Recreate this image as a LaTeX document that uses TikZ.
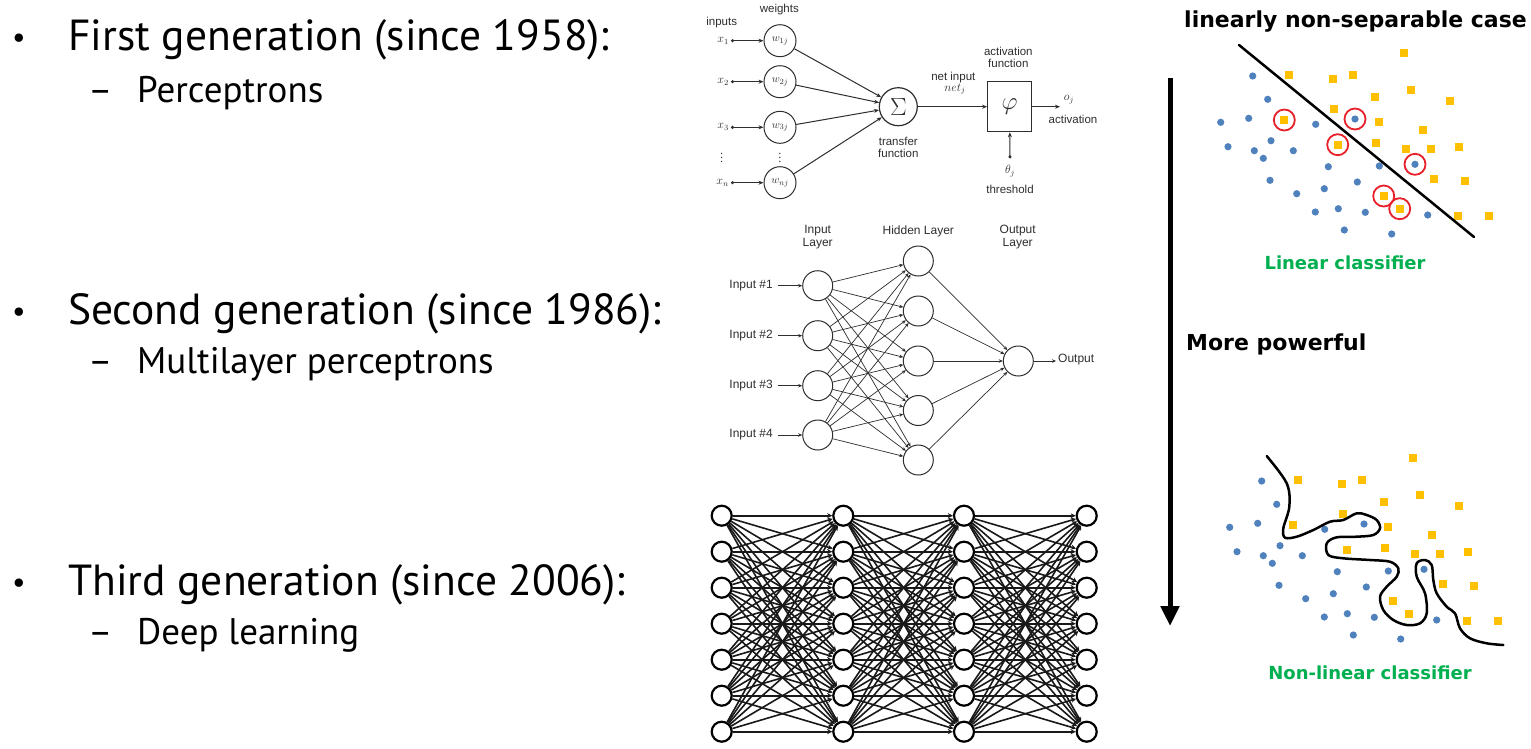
\documentclass[tikz,border=0pt]{standalone}
\usepackage{fontspec}
\setmainfont{PT Sans}
\newfontfamily\labelfont{DejaVu Sans}
\newfontfamily\figfont{Liberation Sans}
\usetikzlibrary{arrows.meta}
\definecolor{dotblue}{HTML}{4F81BD}
\definecolor{sqyellow}{HTML}{FFC000}
\definecolor{clsgreen}{HTML}{00B050}
\definecolor{figgray}{HTML}{2E2E2E}
\definecolor{ringred}{HTML}{E8202A}

% blue dots and yellow squares of the two-class data set
\newcommand\classpoints{%
  \foreach \px/\py in {1252.7/76, 1267.7/99.3, 1220.7/122.3, 1248.7/118.3, 1315.7/124.3,
      1355/119, 1228/146.7, 1254.3/150.7, 1271/140.7, 1263.3/158.3, 1293.3/150.7,
      1328.3/166.7, 1379.3/166, 1415/164.3, 1270/180.3, 1296.7/193.7, 1324.3/188.7,
      1357.3/182, 1315.3/212, 1338.3/208.7, 1365.3/212.3, 1427.7/215, 1344.3/230, 1391.7/234}
    {\fill[dotblue] (\px,\py) circle (3.6pt);}
  \foreach \px/\py in {1404/52.7, 1289.3/74.7, 1333.3/79, 1352.7/74.7, 1411.3/90,
      1374.7/96.7, 1450/100.7, 1333.7/109.3, 1284.3/120, 1378.7/122.3, 1423/129.7,
      1337.7/144.7, 1375.7/143.3, 1405.7/148.7, 1431.3/149.3, 1458.7/147, 1434.3/179.3,
      1465/180.7, 1383.7/196, 1399.7/208.7, 1458/215.7, 1488.7/215.7}
    {\fill[sqyellow] (\px,\py) +(-4,-4) rectangle +(4,4);}%
}

\tikzset{
  bigtext/.style={anchor=base west, inner sep=0pt, font=\fontsize{43.5}{48}\selectfont},
  bullettext/.style={anchor=base west, inner sep=0pt, font=\fontsize{30}{34}\selectfont},
  subtext/.style={anchor=base west, inner sep=0pt, font=\fontsize{37}{42}\selectfont},
  headtext/.style={inner sep=0pt, font=\labelfont\bfseries\fontsize{22}{26}\selectfont},
  greentext/.style={inner sep=0pt, text=clsgreen, font=\labelfont\bfseries\fontsize{18}{22}\selectfont},
  figtext/.style={inner sep=0pt, text=figgray, font=\figfont\fontsize{11.5}{12.5}\selectfont},
  mlptext/.style={inner sep=0pt, text=figgray, font=\figfont\fontsize{12}{13.5}\selectfont},
  wnode/.style={circle, draw=figgray, line width=1pt, minimum size=32pt, inner sep=0pt,
    text=figgray, font=\fontsize{11}{12}\selectfont},
  sumnode/.style={circle, draw=figgray, line width=1.2pt, minimum size=38pt, inner sep=0pt,
    text=figgray, font=\fontsize{24}{26}\selectfont},
  actbox/.style={draw=figgray, line width=1.2pt, minimum width=44pt, minimum height=50pt,
    inner sep=0pt, text=figgray, font=\fontsize{26}{28}\selectfont},
  flow/.style={draw=figgray, line width=1pt, -{Stealth[length=5pt,width=4pt]}},
  dotflow/.style={draw=figgray, line width=1pt, {Circle[length=3pt]}-{Stealth[length=5pt,width=4pt]}},
  mlpnode/.style={circle, draw=figgray, line width=1pt, minimum size=30pt, inner sep=0pt},
  mlpedge/.style={draw=figgray, line width=0.7pt, -{Stealth[length=4pt,width=3.5pt]}},
  dnode/.style={circle, draw=black, fill=white, line width=2.2pt, minimum size=20pt, inner sep=0pt},
  dedge/.style={draw=black!90, line width=1.6pt, -{Stealth[length=5pt,width=5pt]}},
  ring/.style={draw=ringred, line width=1.8pt},
  bound/.style={draw=black, line width=2.5pt, line cap=round},
}

\begin{document}
\begin{tikzpicture}[x=1pt, y=-1pt]
\useasboundingbox[fill=white] (0,0) rectangle (1531,748);

% ---------------- bullet list ----------------
\node[bullettext] (b1) at (12,47) {•};
\node[bigtext] (g1) at (68,50) {First generation (since 1958):};
\node[subtext] (s1d) at (88,102) {–};
\node[subtext] (s1) at (137,102) {Perceptrons};

\node[bullettext] (b2) at (12,321) {•};
\node[bigtext] (g2) at (68,324) {Second generation (since 1986):};
\node[subtext] (s2d) at (88,373) {–};
\node[subtext] (s2) at (137,373) {Multilayer perceptrons};

\node[bullettext] (b3) at (12,592) {•};
\node[bigtext] (g3) at (68,595) {Third generation (since 2006):};
\node[subtext] (s3d) at (88,644) {–};
\node[subtext] (s3) at (137,644) {Deep learning};

% ---------------- single perceptron ----------------
\node[figtext] (lin) at (721.7,22.7) {inputs};
\node[figtext] (lwt) at (779.3,10) {weights};
\foreach \i/\y/\xl/\wl in {1/40.7/x_1/w_{1j}, 2/81.7/x_2/w_{2j}, 3/127.3/x_3/w_{3j}, n/182.7/x_n/w_{nj}}{
  \node[figtext, anchor=east, font=\fontsize{12}{13}\selectfont] (x\i) at (729,\y) {$\xl$};
  \node[wnode] (w\i) at (780,\y) {$\wl$};
  \draw[dotflow] ([xshift=2pt]x\i.east) -- (w\i);
}
\node[figtext, font=\fontsize{12}{13}\selectfont] (xdots) at (721.7,155) {$\vdots$};
\node[figtext, font=\fontsize{12}{13}\selectfont] (wdots) at (780,155) {$\vdots$};
\node[sumnode] (sum) at (898.3,106.7) {$\Sigma$};
\foreach \i in {1,2,3,n} { \draw[flow] (w\i) -- (sum); }
\node[figtext, align=center] (tf) at (898.3,147.5) {transfer\\function};
\node[actbox] (act) at (1009.7,106.7) {$\varphi$};
\draw[flow] (sum) -- (act);
\node[figtext] (ni) at (953.3,77.3) {net input};
\node[figtext, font=\fontsize{12}{13}\selectfont] (nj) at (955,89) {$net_j$};
\node[figtext, align=center] (af) at (1008.3,57.2) {activation\\function};
\coordinate (oj) at (1060,106.7);
\draw[flow] (act) -- (oj);
\node[figtext, font=\fontsize{12}{13}\selectfont] (ojl) at (1069,100) {$o_j$};
\node[figtext] (acl) at (1073,119) {activation};
\coordinate (th) at (1010,158.3);
\draw[dotflow] (th) -- (act);
\node[figtext, font=\fontsize{12}{13}\selectfont] (thl) at (1010,171) {$\theta_j$};
\node[figtext] (thr) at (1010,189.3) {threshold};

% ---------------- multilayer perceptron ----------------
\node[mlptext, align=center] (lil) at (817.7,237) {Input\\Layer};
\node[mlptext] (lhl) at (918.3,231) {Hidden Layer};
\node[mlptext, align=center] (lol) at (1017.7,237) {Output\\Layer};
\foreach \i/\y in {1/285.7, 2/335.7, 3/385.7, 4/435}{
  \node[mlpnode] (in\i) at (817.7,\y) {};
  \node[mlptext, anchor=east] (il\i) at (773,\y) {Input \#\i};
  \draw[mlpedge] ([xshift=5pt]il\i.east) -- (in\i);
}
\foreach \j/\y in {1/261, 2/311, 3/361, 4/410.5, 5/460}{
  \node[mlpnode] (hd\j) at (918.3,\y) {};
}
\node[mlpnode] (ou) at (1018.3,361) {};
\foreach \i in {1,...,4}{ \foreach \j in {1,...,5}{ \draw[mlpedge] (in\i) -- (hd\j); } }
\foreach \j in {1,...,5}{ \draw[mlpedge] (hd\j) -- (ou); }
\coordinate (ouend) at (1056,361);
\draw[mlpedge] (ou) -- (ouend);
\node[mlptext, anchor=west] (oul) at (1058,360) {Output};

% ---------------- deep network ----------------
\foreach \c/\x in {1/721.7, 2/843.3, 3/964, 4/1086.7}{
  \foreach \r in {1,...,7}{
    \node[dnode] (d\c\r) at (\x, {515.7+(\r-1)*36}) {};
  }
}
\foreach \c/\n in {1/2, 2/3, 3/4}{
  \foreach \i in {1,...,7}{ \foreach \j in {1,...,7}{ \draw[dedge] (d\c\i) -- (d\n\j); } }
}

% ---------------- capability arrow ----------------
\coordinate (atop) at (1170,78);
\coordinate (abot) at (1170,626);
\draw[line width=5pt, -{Triangle[length=20pt,width=18pt]}] (atop) -- (abot);
\node[headtext, anchor=base west] (mp) at (1186,350) {More powerful};

% ---------------- linear classifier ----------------
\node[headtext, anchor=base west] (ttl) at (1184,27) {linearly non-separable case};
\classpoints
\foreach \px/\py in {1284.3/120, 1355/119, 1337.7/144.7, 1415/164.3, 1383.7/196, 1399.7/208.7}
  {\draw[ring] (\px,\py) circle (10.5pt);}
\coordinate (lA) at (1239,45);
\coordinate (lB) at (1474,237);
\draw[bound] (lA) -- (lB);
\node[greentext] (lc) at (1345,263) {Linear classifier};

% ---------------- non-linear classifier ----------------
\begin{scope}[shift={(9,405)}]
  \classpoints
\end{scope}
\draw[bound, line join=round] plot[smooth, tension=0.55] coordinates {
  (1266.7,456) (1286.7,483.3) (1289.3,506.7) (1283.3,528.3) (1285,537.7) (1296.7,536.7)
  (1313.3,530) (1330,521.7) (1343.3,520) (1356.7,513.3) (1366.7,515) (1376.7,520)
  (1380,528.3) (1373.3,535) (1356.7,536.7) (1336.7,537.3) (1326.7,543.3) (1328.3,555)
  (1343.3,558.3) (1370,560) (1390,561.7) (1398.3,568.3) (1396.7,576.7) (1386.7,586.7)
  (1380,596.7) (1383.3,610) (1393.3,620) (1406.7,625) (1420,623.3) (1426.7,613.3)
  (1425,593.3) (1416.7,576.7) (1416.7,563.3) (1425,560) (1431.7,565) (1433.3,580)
  (1436.7,593.3) (1446.7,606.7) (1455,613.3) (1460,628.3) (1470,638.3) (1486.7,643.3)
  (1503.3,645)};
\node[greentext] (nlc) at (1370,673) {Non-linear classifier};
\end{tikzpicture}
\end{document}
